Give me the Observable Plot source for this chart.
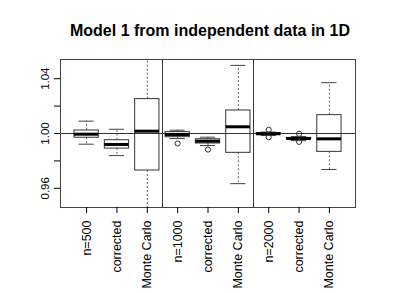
<!DOCTYPE html>
<html>
<head>
<meta charset="utf-8">
<script src="https://cdn.jsdelivr.net/npm/d3@7"></script>
<script src="https://cdn.jsdelivr.net/npm/@observablehq/plot@0.6"></script>
<style>
  body { margin: 0; background: #fff; font-family: "Liberation Sans", Arial, sans-serif; }
  #title { width: 415px; height: 45px; box-sizing: border-box; padding-top: 22px; padding-left: 5px;
           line-height: 17px; text-align: center; font-weight: bold; font-size: 16px; color: #000; }
  svg { display: block; }
</style>
</head>
<body>
<div id="title">Model 1 from independent data in 1D</div>
<div id="chart"></div>
<script>
// Categories (box positions 1..9)
const labels = ["n=500", "corrected", "Monte Carlo", "n=1000", "corrected", "Monte Carlo", "n=2000", "corrected", "Monte Carlo"];
// Box statistics
const lowerWhisker = [0.9922, 0.9839, 0.930, 0.9963, 0.9912, 0.9634, 0.9985, 0.9948, 0.9737];
const lowerQuartile = [0.9969, 0.9890, 0.9730, 0.9973, 0.9927, 0.9859, 0.9994, 0.9958, 0.9866];
const medians = [0.9995, 0.9920, 1.0017, 0.9993, 0.9944, 1.0049, 0.9998, 0.9963, 0.9961];
const upperQuartile = [1.0022, 0.9951, 1.0251, 1.0010, 0.9958, 1.0168, 1.0004, 0.9968, 1.0134];
const upperWhisker = [1.0090, 1.0031, 1.070, 1.0024, 0.9973, 1.0497, 1.0010, 0.9978, 1.0371];
// Outliers: box position and value
const outlierPos = [4, 5, 7, 7, 8, 8];
const outlierVal = [0.9927, 0.9883, 1.0027, 0.9973, 0.9998, 0.9939];
// Axis ticks
const yTicks = [0.96, 0.98, 1.00, 1.02, 1.04];
const yTickLabels = ["0.96", "", "1.00", "", "1.04"];
const referenceLevel = [1.0];
const groupSeparators = [3.5, 6.5];

const boxes = labels.map((lab, i) => ({
  pos: i + 1, label: lab,
  lw: lowerWhisker[i], q1: lowerQuartile[i], med: medians[i], q3: upperQuartile[i], uw: upperWhisker[i]
}));
const outliers = outlierPos.map((p, i) => ({pos: p, value: outlierVal[i]}));

const halfBox = 0.4, halfStaple = 0.25;

const chart = Plot.plot({
  width: 415,
  height: 248,
  marginTop: 14,
  marginBottom: 86,
  marginLeft: 60,
  marginRight: 60,
  style: {fontFamily: "Liberation Sans, Arial, sans-serif", fontSize: "11.5px", color: "#000", background: "#fff"},
  x: {type: "linear", domain: [0.14, 9.86], label: null},
  y: {domain: [0.946, 1.054], label: null},
  marks: [
    Plot.ruleY(referenceLevel, {stroke: "#333", strokeWidth: 1}),
    Plot.ruleX(groupSeparators, {stroke: "#333", strokeWidth: 1}),
    // whiskers
    Plot.ruleX(boxes, {x: "pos", y1: "q3", y2: "uw", stroke: "#666", strokeDasharray: "2,2", clip: true}),
    Plot.ruleX(boxes, {x: "pos", y1: "q1", y2: "lw", stroke: "#666", strokeDasharray: "2,2", clip: true}),
    // staples
    Plot.ruleY(boxes, {y: "uw", x1: d => d.pos - halfStaple, x2: d => d.pos + halfStaple, stroke: "#444", clip: true}),
    Plot.ruleY(boxes, {y: "lw", x1: d => d.pos - halfStaple, x2: d => d.pos + halfStaple, stroke: "#444", clip: true}),
    // boxes
    Plot.rect(boxes, {x1: d => d.pos - halfBox, x2: d => d.pos + halfBox, y1: "q1", y2: "q3", fill: "none", stroke: "#333", strokeWidth: 1}),
    // medians
    Plot.ruleY(boxes, {y: "med", x1: d => d.pos - halfBox, x2: d => d.pos + halfBox, stroke: "#000", strokeWidth: 3}),
    // outliers
    Plot.dot(outliers, {x: "pos", y: "value", r: 2.6, stroke: "#333", fill: "none", strokeWidth: 1}),
    Plot.frame({stroke: "#444"}),
    Plot.axisX({ticks: boxes.map(d => d.pos), tickFormat: p => labels[p - 1], tickRotate: -90, tickSize: 6, tickPadding: 7, fontSize: 12.5, label: null}),
    Plot.axisY({ticks: yTicks, tickFormat: v => yTickLabels[yTicks.indexOf(v)], tickRotate: -90, tickSize: 6, tickPadding: 6, label: null})
  ]
});
document.getElementById("chart").appendChild(chart);
</script>
</body>
</html>
